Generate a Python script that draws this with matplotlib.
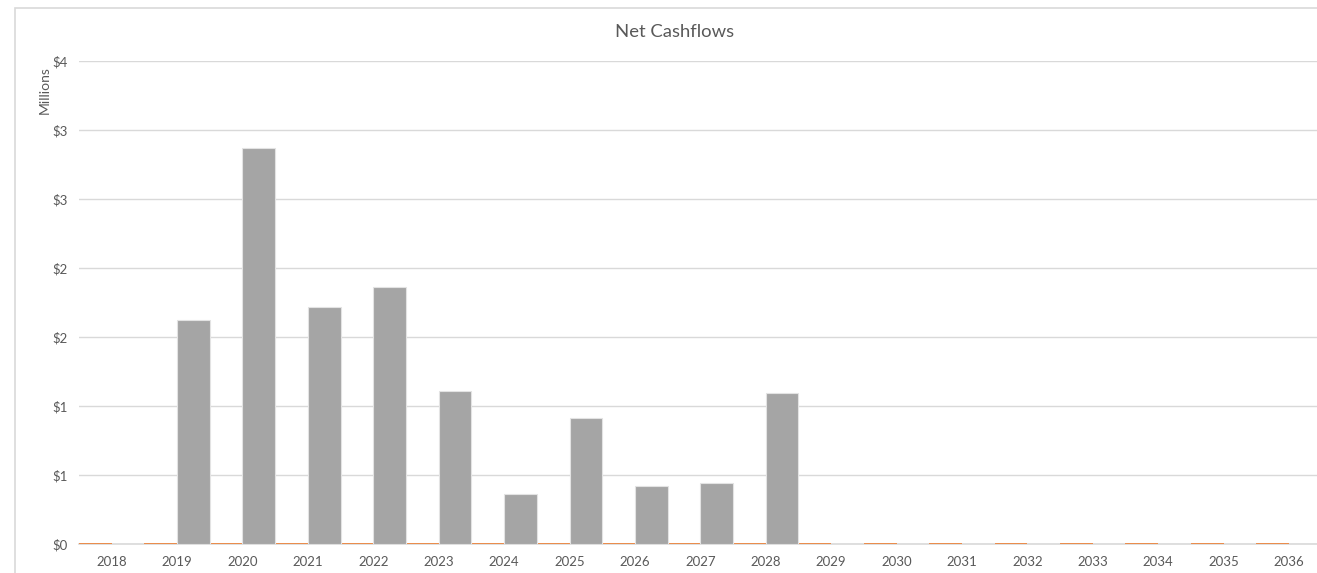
import math
import numpy as np
import matplotlib.pyplot as plt
from matplotlib.patches import Rectangle
from matplotlib.ticker import FuncFormatter, MultipleLocator

# ==========================================================
# data (values in millions)
# ==========================================================
years = [str(y) for y in range(2018, 2037)]
series_a = [0.0] * 19  # orange series, flat at zero
series_b = [0.0, 1.62, 2.87, 1.72, 1.86, 1.11, 0.36, 0.915, 0.42, 0.445,
            1.095, 0.0, 0.0, 0.0, 0.0, 0.0, 0.0, 0.0, 0.0]

plt.rcParams['font.family'] = ['Lato', 'DejaVu Sans']
txt_col = '#595959'
grid_col = '#D9D9D9'

fig = plt.figure(figsize=(13.17, 5.73), dpi=100)

# outer chart border (cropped on right/bottom like the screenshot)
fig.patches.append(Rectangle((15 / 1317, -0.1), 1.2, (573 - 8) / 573 + 0.1,
                             transform=fig.transFigure, fill=False,
                             edgecolor=grid_col, lw=1.2))

ax = fig.add_axes([79 / 1317, 29 / 573, 1242.6 / 1317, 483 / 573])

x = np.arange(len(years))
w = 0.5
ax.bar(x - w / 2, series_a, width=w, color='#ED7D31', edgecolor='#ED7D31',
       linewidth=1.2, zorder=3)
ax.bar(x + w / 2, series_b, width=w, color='#A5A5A5', edgecolor='#E3E3E3',
       linewidth=0.8, zorder=3)

ax.set_xlim(-0.5, len(years) - 0.5)
ax.set_ylim(0, 3.5)
ax.set_xticks(x)
ax.set_xticklabels(years)
ax.yaxis.set_major_locator(MultipleLocator(0.5))
# excel-style rounding to whole dollars
ax.yaxis.set_major_formatter(FuncFormatter(lambda v, p: f"${math.floor(v + 0.5)}"))

ax.grid(True, axis='y', color=grid_col, lw=1, zorder=0)
ax.set_axisbelow(True)
for s in ['top', 'right', 'left']:
    ax.spines[s].set_visible(False)
ax.spines['bottom'].set_color(grid_col)
ax.spines['bottom'].set_linewidth(1.2)
ax.spines['bottom'].set_zorder(2)
ax.tick_params(length=0, colors=txt_col, labelsize=9.5)
ax.tick_params(axis='x', pad=9)
ax.tick_params(axis='y', pad=8)

fig.text(675 / 1317, 1 - 32 / 573, "Net Cashflows", ha='center', va='center',
         fontsize=13.3, color=txt_col)
fig.text(45 / 1317, 1 - 90 / 573, "Millions", ha='center', va='center',
         rotation=90, fontsize=10, color=txt_col)

fig.savefig('out.png', dpi=100)
